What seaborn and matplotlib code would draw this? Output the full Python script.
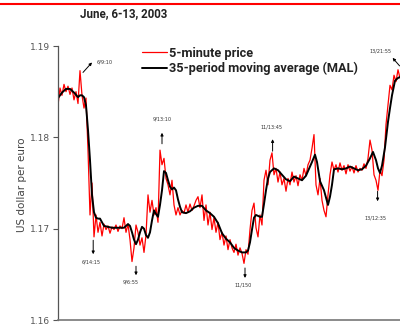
import numpy as np
import pandas as pd
import seaborn as sns
import matplotlib.pyplot as plt
from matplotlib.lines import Line2D

# EUR/USD, 5-minute bars, June 6-13 2003
price = [
    1.1835, 1.1854, 1.1846, 1.1858, 1.1850, 1.1856, 1.1847, 1.1854, 1.1841, 1.1850,
    1.1837, 1.1873, 1.1846, 1.1832, 1.1843, 1.1786, 1.1715, 1.1750, 1.1691, 1.1715,
    1.1696, 1.1707, 1.1692, 1.1705, 1.1699, 1.1703, 1.1695, 1.1702, 1.1699, 1.1704,
    1.1697, 1.1703, 1.1700, 1.1712, 1.1696, 1.1705, 1.1688, 1.1664, 1.1679, 1.1704,
    1.1696, 1.1682, 1.1690, 1.1674, 1.1693, 1.1737, 1.1718, 1.1731, 1.1715, 1.1723,
    1.1707, 1.1786, 1.1770, 1.1777, 1.1755, 1.1748, 1.1737, 1.1753, 1.1726, 1.1715,
    1.1723, 1.1715, 1.1720, 1.1717, 1.1726, 1.1718, 1.1727, 1.1720, 1.1725, 1.1731,
    1.1735, 1.1723, 1.1737, 1.1709, 1.1726, 1.1704, 1.1718, 1.1699, 1.1712, 1.1696,
    1.1707, 1.1688, 1.1696, 1.1682, 1.1692, 1.1677, 1.1688, 1.1679, 1.1674, 1.1683,
    1.1671, 1.1679, 1.1673, 1.1662, 1.1677, 1.1672, 1.1699, 1.1720, 1.1728, 1.1701,
    1.1691, 1.1715, 1.1704, 1.1753, 1.1764, 1.1748, 1.1775, 1.1783, 1.1759, 1.1766,
    1.1751, 1.1762, 1.1748, 1.1755, 1.1741, 1.1755, 1.1748, 1.1762, 1.1751, 1.1758,
    1.1747, 1.1759, 1.1753, 1.1766, 1.1758, 1.1770, 1.1775, 1.1788, 1.1803, 1.1748,
    1.1737, 1.1755, 1.1731, 1.1720, 1.1713, 1.1737, 1.1759, 1.1773, 1.1764, 1.1770,
    1.1762, 1.1772, 1.1764, 1.1769, 1.1760, 1.1770, 1.1763, 1.1768, 1.1761, 1.1769,
    1.1762, 1.1766, 1.1764, 1.1771, 1.1766, 1.1777, 1.1797, 1.1786, 1.1759, 1.1753,
    1.1742, 1.1764, 1.1758, 1.1775, 1.1814, 1.1835, 1.1857, 1.1852, 1.1868, 1.1861,
    1.1874, 1.1865,
]
price_period = np.arange(len(price)) * 10

ma_period = [
    0, 20, 40, 60, 80, 100, 110, 120, 130, 140, 150, 160, 170, 180, 190, 200,
    210, 220, 230, 250, 270, 290, 310, 330, 350, 360, 370, 380, 390, 400, 410,
    420, 430, 440, 450, 460, 470, 480, 490, 500, 510, 520, 530, 540, 550, 560,
    570, 580, 590, 600, 610, 620, 640, 660, 680, 700, 720, 740, 760, 780, 800,
    820, 840, 860, 880, 900, 920, 940, 950, 960, 970, 980, 990, 1010, 1020, 1030,
    1040, 1050, 1060, 1080, 1100, 1120, 1140, 1160, 1180, 1200, 1220, 1240, 1260,
    1270, 1285, 1295, 1310, 1330, 1350, 1360, 1370, 1380, 1400, 1420, 1440, 1460,
    1480, 1500, 1520, 1540, 1560, 1575, 1590, 1600, 1610, 1620, 1635, 1650, 1660,
    1670, 1685, 1700, 1710,
]
ma_value = [
    1.1843, 1.1849, 1.1853, 1.1853, 1.1849, 1.1844, 1.1846, 1.1846, 1.1844, 1.1835,
    1.1808, 1.1775, 1.1737, 1.1718, 1.1712, 1.1711, 1.1711, 1.1707, 1.1703, 1.1702,
    1.1701, 1.1701, 1.1701, 1.1701, 1.1705, 1.1703, 1.1696, 1.1688, 1.1683, 1.1688,
    1.1696, 1.1702, 1.1700, 1.1693, 1.1690, 1.1696, 1.1709, 1.1720, 1.1716, 1.1713,
    1.1726, 1.1742, 1.1763, 1.1761, 1.1753, 1.1746, 1.1743, 1.1745, 1.1742, 1.1732,
    1.1724, 1.1718, 1.1717, 1.1719, 1.1723, 1.1725, 1.1725, 1.1720, 1.1717, 1.1713,
    1.1706, 1.1695, 1.1689, 1.1685, 1.1679, 1.1676, 1.1674, 1.1674, 1.1676, 1.1685,
    1.1699, 1.1712, 1.1715, 1.1713, 1.1713, 1.1727, 1.1742, 1.1755, 1.1762, 1.1766,
    1.1764, 1.1759, 1.1754, 1.1752, 1.1757, 1.1755, 1.1753, 1.1758, 1.1768, 1.1773,
    1.1781, 1.1773, 1.1752, 1.1742, 1.1726, 1.1735, 1.1748, 1.1765, 1.1766, 1.1765,
    1.1766, 1.1768, 1.1766, 1.1764, 1.1765, 1.1769, 1.1777, 1.1784, 1.1775, 1.1766,
    1.1761, 1.1769, 1.1789, 1.1817, 1.1832, 1.1846, 1.1862, 1.1865, 1.1866,
]

# turning points: label, period and value at the arrow head
mark_label = ["6/9:10", "6/14:15", "9/6:55", "9/13:10",
              "11/150", "11/13:45", "13/12:35", "13/21:55"]
mark_period = [170, 176, 390, 520, 935, 1073, 1598, 1673]
mark_value = [1.1882, 1.1672, 1.1649, 1.1805, 1.1646, 1.1798, 1.1730, 1.1887]
# arrow tail and label offsets (pixels) from the arrow head
tail_off = [(-9, -10), (0, 14), (0, 9), (0, -11), (0, 10), (0, -12), (0, 10), (7, -8)]
text_off = [(13, 0), (-2, -8), (-5, -7), (0, 14), (-2, -7), (-1, 12), (-2, -17), (-12, 7)]

df_price = pd.DataFrame({"period": price_period, "value": price})
df_ma = pd.DataFrame({"period": ma_period, "value": ma_value})

sns.set_theme(style="white")
plt.rcParams["font.family"] = ["DejaVu Sans"]

fig = plt.figure(figsize=(4, 3.25), dpi=100)
ax = fig.add_axes([58 / 400, 5 / 325, 342 / 400, 274 / 325])

sns.lineplot(data=df_price, x="period", y="value", ax=ax, color="#ff0000",
             linewidth=0.9, label="5-minute price")
sns.lineplot(data=df_ma, x="period", y="value", ax=ax, color="black",
             linewidth=1.4, label="35-period moving average (MAL)")

ax.set_xlim(0, 1710)
ax.set_ylim(1.16, 1.19)
ax.set_yticks([1.16, 1.17, 1.18, 1.19])
ax.set_yticklabels(["1.16", "1.17", "1.18", "1.19"])
ax.set_xticks([])
ax.set_xlabel("")
ax.set_ylabel("")
ax.tick_params(axis="y", left=True, length=3.6, width=0.8, pad=2,
               labelsize=6.5, labelcolor="#555555", color="#555555")
for s in ["top", "right"]:
    ax.spines[s].set_visible(False)
ax.spines["left"].set_color("#555555")
ax.spines["bottom"].set_color("#777777")
ax.spines["left"].set_linewidth(0.9)
ax.spines["bottom"].set_linewidth(1.2)

# arrows and small time labels
for text, px, val, toff, loff in zip(mark_label, mark_period, mark_value,
                                     tail_off, text_off):
    ax.annotate("", xy=(px, val), xytext=toff, textcoords="offset pixels",
                arrowprops=dict(arrowstyle="-|>", color="black", lw=0.7,
                                mutation_scale=4, shrinkA=0, shrinkB=0))
    ax.annotate(text, xy=(px, val), xytext=loff, textcoords="offset pixels",
                ha="center", va="center", fontsize=3.6, color="#333333")

leg = ax.legend(loc="upper left", bbox_to_anchor=(130 / 400, 1 - 35 / 325),
                bbox_transform=fig.transFigure, frameon=False,
                handlelength=2.0, handletextpad=0.15, labelspacing=0.2,
                prop={"family": "Roboto", "weight": "bold", "size": 9.2})
for t in leg.get_texts():
    t.set_color("#222222")

fig.text(22 / 400, 1 - 185 / 325, "US dollar per euro", rotation=90,
         ha="center", va="center", fontsize=7.5, color="#444444")
fig.text(80 / 400, 1 - 14 / 325, "June, 6-13, 2003", ha="left", va="center",
         fontsize=8.3, fontweight="bold", family="Roboto", color="#222222")
fig.add_artist(Line2D([0, 1], [1 - 3.7 / 325, 1 - 3.7 / 325],
                      transform=fig.transFigure, color="#ff0000", lw=1.5))

fig.savefig("out.png", dpi=100)
